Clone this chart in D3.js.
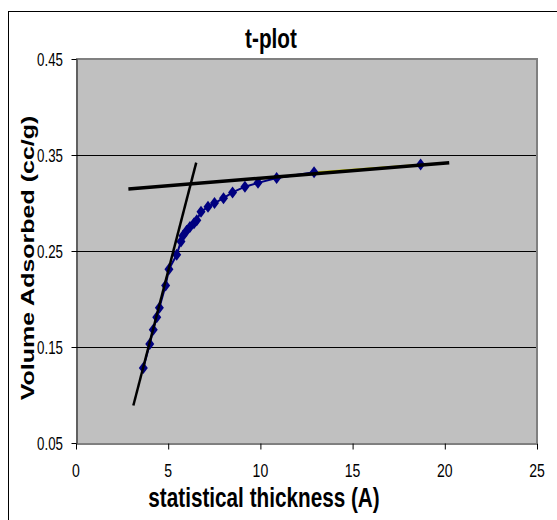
<!DOCTYPE html>
<html>
<head>
<meta charset="utf-8">
<script src="https://cdn.jsdelivr.net/npm/d3@7"></script>
<style>
  body { margin: 0; background: #fff; }
  text { font-family: "Liberation Sans", Arial, sans-serif; }
</style>
</head>
<body>
<div id="chart-area"></div>
<script>
// t-plot: volume adsorbed vs statistical thickness
const thickness = [3.65, 4.00, 4.19, 4.38, 4.52, 4.86, 5.04, 5.46, 5.69, 5.80, 6.00, 6.18,
  6.40, 6.55, 6.78, 7.16, 7.51, 8.00, 8.49, 9.16, 9.87, 10.88, 12.91, 18.69];
const volume = [0.128, 0.153, 0.168, 0.181, 0.191, 0.214, 0.231, 0.246, 0.260, 0.266, 0.271, 0.275,
  0.279, 0.282, 0.291, 0.296, 0.300, 0.305, 0.311, 0.317, 0.321, 0.326, 0.332, 0.340];

// fitted lines (end points)
const steepLine = [[3.11, 0.089], [6.52, 0.342]];
const flatLine = [[2.84, 0.3146], [20.24, 0.342]];

const xTicks = [0, 5, 10, 15, 20, 25];
const yTicks = [0.05, 0.15, 0.25, 0.35, 0.45];

const W = 557, H = 520;
const sx = 0.74; // horizontal squeeze of the text in the original picture

const svg = d3.select('#chart-area')
  .append('svg')
  .attr('width', W)
  .attr('height', H);

// outer frame
svg.append('rect')
  .attr('x', 8.5).attr('y', 11.5)
  .attr('width', 600).attr('height', 600)
  .attr('fill', '#fff')
  .attr('stroke', '#000')
  .attr('stroke-width', 1);

const x = d3.scaleLinear().domain([0, 25]).range([76, 537]);
const y = d3.scaleLinear().domain([0.05, 0.45]).range([443, 59]);

// plot area
svg.append('rect')
  .attr('x', x(0)).attr('y', y(0.45))
  .attr('width', x(25) - x(0)).attr('height', y(0.05) - y(0.45))
  .attr('fill', '#c0c0c0');

// gridlines
svg.append('g')
  .selectAll('line')
  .data(yTicks.filter(d => d > 0.05 && d < 0.45))
  .join('line')
  .attr('x1', x(0)).attr('x2', x(25))
  .attr('y1', d => Math.round(y(d)) + 0.5).attr('y2', d => Math.round(y(d)) + 0.5)
  .attr('stroke', '#000');

// top and right borders of plot area (grey)
svg.append('path')
  .attr('d', `M${x(0)},${y(0.45)}H${x(25)}V${y(0.05)}`)
  .attr('fill', 'none')
  .attr('stroke', '#808080')
  .attr('stroke-width', 2);

// axes
const xAxis = svg.append('g')
  .attr('transform', `translate(0, ${Math.round(y(0.05)) + 0.5})`)
  .call(d3.axisBottom(x).tickValues(xTicks).tickSize(6).tickSizeOuter(0));
xAxis.select('.domain').attr('stroke', '#000');
xAxis.selectAll('.tick line').attr('stroke', '#000');
xAxis.selectAll('.tick text').remove();

const yAxis = svg.append('g')
  .attr('transform', `translate(${Math.round(x(0)) + 0.5}, 0)`)
  .call(d3.axisLeft(y).tickValues(yTicks).tickSize(5).tickSizeOuter(0));
yAxis.select('.domain').attr('stroke', '#000');
yAxis.selectAll('.tick line').attr('stroke', '#000');
yAxis.selectAll('.tick text').remove();

// tick labels, squeezed like the original
svg.append('g')
  .selectAll('text')
  .data(xTicks)
  .join('text')
  .attr('transform', d => `translate(${x(d)}, 477) scale(${sx}, 1)`)
  .attr('text-anchor', 'middle')
  .attr('font-size', 19)
  .text(d => d);

svg.append('g')
  .selectAll('text')
  .data(yTicks)
  .join('text')
  .attr('transform', d => `translate(63, ${y(d) + 6.5}) scale(${sx}, 1)`)
  .attr('text-anchor', 'end')
  .attr('font-size', 18)
  .text(d => d.toFixed(2));

// series line
const pts = thickness.map((t, i) => [t, volume[i]]);
const line = d3.line().x(d => x(d[0])).y(d => y(d[1]));

svg.append('path')
  .datum(pts.slice(0, pts.length - 1))
  .attr('d', line)
  .attr('fill', 'none')
  .attr('stroke', '#000080')
  .attr('stroke-width', 2);

svg.append('path')
  .datum(pts.slice(pts.length - 2))
  .attr('d', line)
  .attr('fill', 'none')
  .attr('stroke', '#c8c800')
  .attr('stroke-width', 1.5);

// markers (diamonds)
svg.append('g')
  .selectAll('path')
  .data(pts)
  .join('path')
  .attr('d', d => {
    const cx = x(d[0]), cy = y(d[1]);
    return `M${cx},${cy - 6}L${cx + 4.5},${cy}L${cx},${cy + 6}L${cx - 4.5},${cy}Z`;
  })
  .attr('fill', '#000080');

// fitted lines
svg.append('path')
  .datum(steepLine)
  .attr('d', line)
  .attr('stroke', '#000')
  .attr('stroke-width', 2.5)
  .attr('fill', 'none');

svg.append('path')
  .datum(flatLine)
  .attr('d', line)
  .attr('stroke', '#000')
  .attr('stroke-width', 3.5)
  .attr('fill', 'none');

// title and axis labels
svg.append('text')
  .attr('transform', `translate(271, 48) scale(${sx}, 1)`)
  .attr('text-anchor', 'middle')
  .attr('font-size', 28)
  .attr('font-weight', 'bold')
  .text('t-plot');

svg.append('text')
  .attr('transform', `translate(264, 507) scale(${sx}, 1)`)
  .attr('text-anchor', 'middle')
  .attr('font-size', 28)
  .attr('font-weight', 'bold')
  .text('statistical thickness (A)');

svg.append('text')
  .attr('transform', `translate(34, 258) scale(${sx}, 1) rotate(-90)`)
  .attr('text-anchor', 'middle')
  .attr('font-size', 25)
  .attr('font-weight', 'bold')
  .text('Volume Adsorbed (cc/g)');
</script>
</body>
</html>
